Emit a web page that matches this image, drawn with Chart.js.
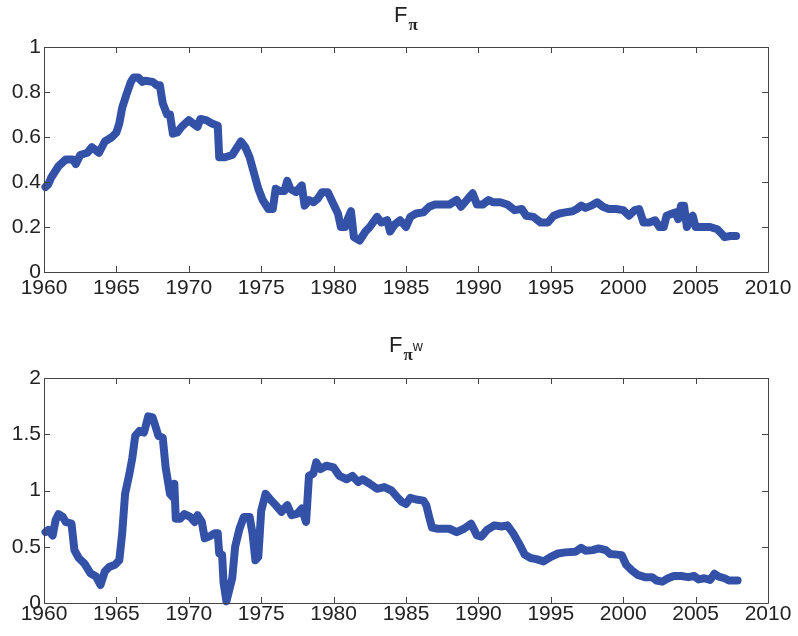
<!DOCTYPE html>
<html>
<head>
<meta charset="utf-8">
<script src="https://cdn.jsdelivr.net/npm/chart.js@4/dist/chart.umd.min.js"></script>
<style>
  html, body { margin: 0; padding: 0; background: #ffffff; }
  #wrap { position: relative; width: 798px; height: 636px; }
  .box { position: absolute; left: 0; width: 798px; height: 318px; }
</style>
</head>
<body>
<div id="wrap">
  <div class="box" style="top:0"><canvas id="c1" width="798" height="318"></canvas></div>
  <div class="box" style="top:318px"><canvas id="c2" width="798" height="318"></canvas></div>
</div>
<script>
// ---- data ----
const xTicks = [1960, 1965, 1970, 1975, 1980, 1985, 1990, 1995, 2000, 2005, 2010];
const yTicksTop = [0, 0.2, 0.4, 0.6, 0.8, 1];
const yTicksBottom = [0, 0.5, 1, 1.5, 2];

const piYears = [1960.1,1960.3,1960.5,1960.8,1961.0,1961.5,1962.0,1962.2,1962.5,1963.0,1963.3,1963.8,1964.2,1964.7,1965.0,1965.2,1965.4,1965.7,1966.0,1966.2,1966.5,1966.8,1967.0,1967.5,1967.8,1968.0,1968.2,1968.5,1968.7,1968.9,1969.2,1969.5,1970.0,1970.3,1970.6,1970.8,1971.2,1971.6,1972.0,1972.1,1972.5,1973.0,1973.3,1973.6,1973.9,1974.2,1974.5,1974.8,1975.1,1975.5,1975.8,1976.0,1976.3,1976.6,1976.8,1977.0,1977.4,1977.8,1978.0,1978.3,1978.6,1978.9,1979.2,1979.6,1980.0,1980.3,1980.5,1980.8,1981.0,1981.2,1981.4,1981.8,1982.2,1982.5,1983.0,1983.3,1983.7,1983.9,1984.2,1984.6,1985.0,1985.3,1985.7,1986.2,1986.6,1987.0,1987.5,1988.0,1988.5,1988.8,1989.2,1989.6,1989.9,1990.3,1990.7,1991.0,1991.5,1992.0,1992.5,1993.0,1993.3,1993.8,1994.3,1994.8,1995.2,1995.6,1996.0,1996.5,1996.8,1997.1,1997.4,1997.8,1998.2,1998.6,1999.0,1999.5,2000.0,2000.4,2000.8,2001.1,2001.4,2001.8,2002.2,2002.5,2002.8,2003.0,2003.4,2003.6,2003.8,2004.0,2004.2,2004.4,2004.6,2004.8,2005.0,2005.5,2006.0,2006.5,2006.8,2007.0,2007.4,2007.8];
const piValues = [0.378,0.39,0.42,0.45,0.47,0.50,0.50,0.48,0.52,0.53,0.555,0.53,0.58,0.60,0.62,0.66,0.73,0.79,0.845,0.865,0.865,0.845,0.85,0.845,0.83,0.83,0.75,0.70,0.70,0.615,0.62,0.645,0.675,0.66,0.645,0.68,0.675,0.66,0.65,0.51,0.51,0.52,0.55,0.58,0.555,0.51,0.44,0.37,0.32,0.28,0.28,0.37,0.36,0.36,0.405,0.37,0.355,0.385,0.295,0.32,0.31,0.325,0.355,0.355,0.30,0.26,0.20,0.20,0.24,0.27,0.155,0.14,0.18,0.20,0.245,0.22,0.23,0.18,0.21,0.23,0.20,0.245,0.26,0.265,0.29,0.30,0.30,0.30,0.32,0.29,0.32,0.35,0.30,0.30,0.32,0.31,0.31,0.30,0.275,0.28,0.25,0.245,0.22,0.22,0.25,0.26,0.265,0.27,0.28,0.295,0.285,0.295,0.31,0.29,0.28,0.28,0.275,0.25,0.275,0.28,0.22,0.22,0.23,0.20,0.20,0.25,0.26,0.265,0.235,0.295,0.295,0.20,0.235,0.25,0.20,0.20,0.20,0.19,0.17,0.155,0.16,0.16];

const piwYears = [1960.1,1960.3,1960.6,1960.8,1961.0,1961.3,1961.5,1961.9,1962.1,1962.4,1962.8,1963.2,1963.6,1963.9,1964.2,1964.5,1964.9,1965.2,1965.4,1965.6,1965.9,1966.1,1966.3,1966.6,1966.9,1967.0,1967.2,1967.5,1967.7,1967.9,1968.2,1968.4,1968.7,1968.9,1969.0,1969.1,1969.4,1969.7,1970.1,1970.4,1970.6,1970.9,1971.1,1971.4,1971.8,1972.0,1972.1,1972.3,1972.4,1972.6,1972.8,1973.0,1973.2,1973.5,1973.8,1974.2,1974.4,1974.6,1974.8,1975.0,1975.3,1975.6,1976.0,1976.4,1976.8,1977.1,1977.5,1977.8,1978.1,1978.3,1978.6,1978.8,1979.1,1979.5,1980.0,1980.4,1980.9,1981.3,1981.7,1982.0,1982.5,1983.0,1983.5,1984.0,1984.4,1984.7,1985.0,1985.3,1985.7,1986.2,1986.4,1986.6,1986.8,1987.2,1988.0,1988.5,1989.0,1989.5,1989.9,1990.2,1990.6,1991.1,1991.6,1992.0,1992.4,1992.8,1993.2,1993.6,1994.0,1994.5,1995.0,1995.5,1996.0,1996.7,1997.1,1997.4,1997.9,1998.3,1998.8,1999.1,1999.6,1999.9,2000.2,2000.6,2001.0,2001.5,2002.0,2002.3,2002.7,2003.1,2003.5,2004.0,2004.5,2004.9,2005.2,2005.6,2006.0,2006.3,2006.6,2007.0,2007.3,2007.9];
const piwValues = [0.63,0.65,0.60,0.735,0.79,0.765,0.72,0.705,0.47,0.40,0.35,0.265,0.235,0.16,0.28,0.32,0.34,0.38,0.62,0.97,1.15,1.29,1.485,1.53,1.515,1.56,1.66,1.65,1.57,1.485,1.47,1.205,0.97,0.94,1.06,0.75,0.75,0.79,0.765,0.72,0.78,0.72,0.575,0.59,0.62,0.62,0.44,0.43,0.18,0.015,0.12,0.22,0.50,0.66,0.765,0.765,0.62,0.38,0.41,0.82,0.97,0.925,0.87,0.81,0.87,0.78,0.795,0.84,0.72,1.13,1.15,1.25,1.19,1.22,1.205,1.13,1.10,1.13,1.075,1.10,1.06,1.015,1.03,1.0,0.94,0.90,0.88,0.935,0.92,0.91,0.87,0.765,0.67,0.66,0.66,0.63,0.66,0.705,0.60,0.59,0.65,0.69,0.68,0.69,0.62,0.53,0.43,0.40,0.39,0.37,0.41,0.44,0.45,0.455,0.49,0.465,0.47,0.485,0.47,0.435,0.43,0.425,0.34,0.29,0.25,0.23,0.23,0.20,0.19,0.22,0.24,0.24,0.23,0.24,0.21,0.22,0.205,0.26,0.235,0.22,0.20,0.20];

// ---- styling ----
const LINE_COLOR = '#3451a8';
const AXIS_COLOR = '#444444';
const TEXT_COLOR = '#222222';
const FONT = 'Liberation Sans, Arial, sans-serif';

const boxTicksPlugin = {
  id: 'boxTicks',
  afterDraw(chart) {
    const ctx = chart.ctx;
    const a = chart.chartArea;
    const xs = chart.scales.x, ys = chart.scales.y;
    const L = 6;
    ctx.save();
    ctx.strokeStyle = AXIS_COLOR;
    ctx.lineWidth = 1;
    ctx.beginPath();
    ctx.rect(Math.round(a.left) + 0.5, Math.round(a.top) + 0.5,
             Math.round(a.right - a.left), Math.round(a.bottom - a.top));
    ctx.stroke();
    ctx.beginPath();
    xs.ticks.forEach(t => {
      const px = Math.round(xs.getPixelForValue(t.value)) + 0.5;
      ctx.moveTo(px, a.bottom); ctx.lineTo(px, a.bottom - L);
      ctx.moveTo(px, a.top); ctx.lineTo(px, a.top + L);
    });
    ys.ticks.forEach(t => {
      const py = Math.round(ys.getPixelForValue(t.value)) + 0.5;
      ctx.moveTo(a.left, py); ctx.lineTo(a.left + L, py);
      ctx.moveTo(a.right, py); ctx.lineTo(a.right - L, py);
    });
    ctx.stroke();
    ctx.restore();
  }
};

function titlePlugin(withW, baseY) {
  return {
    id: 'mathTitle',
    afterDraw(chart) {
      const ctx = chart.ctx;
      const a = chart.chartArea;
      ctx.save();
      ctx.fillStyle = TEXT_COLOR;
      ctx.textBaseline = 'alphabetic';
      ctx.textAlign = 'left';
      const fF = '22px ' + FONT;
      const fPi = 'bold 17px Liberation Serif, Times New Roman, serif';
      const fW = '14px ' + FONT;
      ctx.font = fF; const wF = ctx.measureText('F').width;
      ctx.font = fPi; const wPi = ctx.measureText('\u03c0').width;
      ctx.font = fW; const wW = withW ? ctx.measureText('w').width : 0;
      const total = wF + 1 + wPi + wW;
      const cx = (a.left + a.right) / 2;
      let x = cx - total / 2;
      ctx.font = fF; ctx.fillText('F', x, baseY);
      x += wF + 1;
      ctx.font = fPi; ctx.fillText('\u03c0', x, baseY + 8);
      x += wPi;
      if (withW) { ctx.font = fW; ctx.fillText('w', x, baseY - 1); }
      ctx.restore();
    }
  };
}

function makeChart(id, years, values, yMax, yTicks, padTop, xAxisH, xPad, withW, titleY) {
  const pts = years.map((yr, i) => ({ x: yr, y: values[i] }));
  return new Chart(document.getElementById(id), {
    type: 'line',
    data: {
      datasets: [{
        data: pts,
        borderColor: LINE_COLOR,
        borderWidth: 8,
        borderJoinStyle: 'round',
        borderCapStyle: 'round',
        pointRadius: 0,
        tension: 0,
        fill: false,
        clip: false
      }]
    },
    options: {
      responsive: false,
      animation: false,
      devicePixelRatio: 1,
      layout: { padding: { top: padTop, right: 30, left: 0, bottom: 0 } },
      plugins: { legend: { display: false }, title: { display: false }, tooltip: { enabled: false } },
      scales: {
        x: {
          type: 'linear',
          min: 1960, max: 2010,
          afterBuildTicks: s => { s.ticks = xTicks.map(v => ({ value: v })); },
          afterFit: s => { s.height = xAxisH; },
          grid: { display: false, drawTicks: false },
          border: { display: false },
          ticks: {
            color: TEXT_COLOR, padding: xPad, maxRotation: 0, autoSkip: false,
            font: { family: FONT, size: 21 },
            callback: v => String(v)
          }
        },
        y: {
          min: 0, max: yMax,
          afterBuildTicks: s => { s.ticks = yTicks.map(v => ({ value: v })); },
          afterFit: s => { s.width = 44; },
          grid: { display: false, drawTicks: false },
          border: { display: false },
          ticks: {
            color: TEXT_COLOR, padding: 3,
            font: { family: FONT, size: 21 },
            callback: v => String(v)
          }
        }
      }
    },
    plugins: [boxTicksPlugin, titlePlugin(withW, titleY)]
  });
}

makeChart('c1', piYears, piValues, 1, yTicksTop, 47, 46, 4, false, 22);
makeChart('c2', piwYears, piwValues, 2, yTicksBottom, 60, 33, -1, true, 34);
</script>
</body>
</html>
